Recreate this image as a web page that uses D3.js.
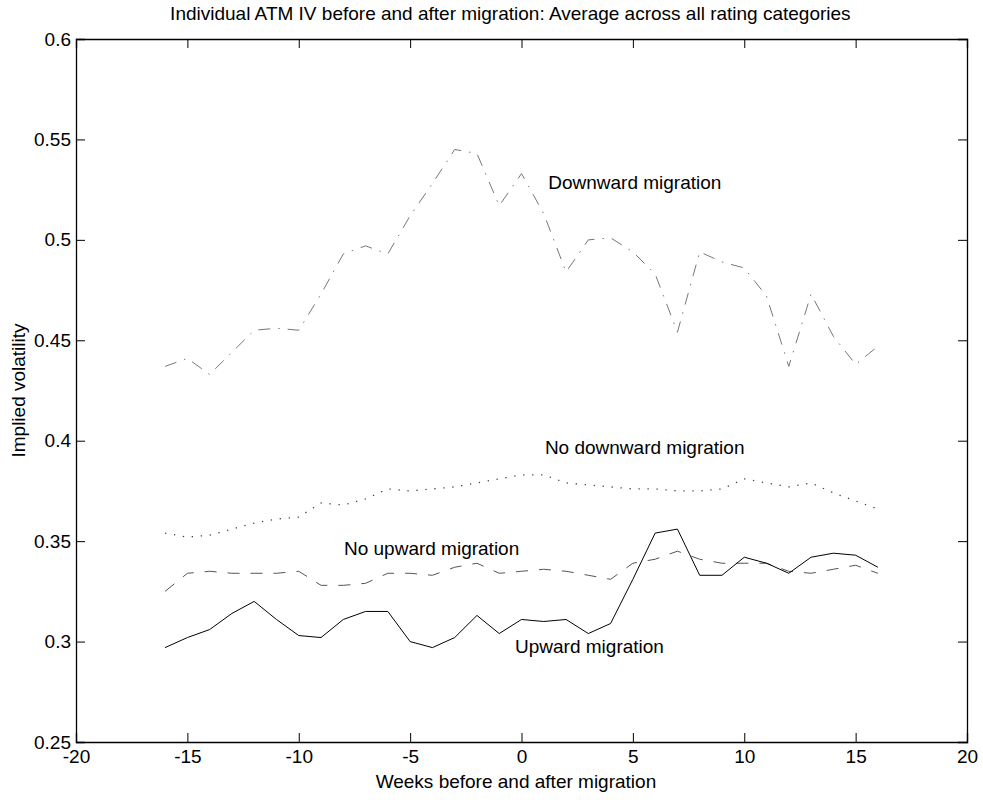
<!DOCTYPE html>
<html>
<head>
<meta charset="utf-8">
<script src="https://cdn.jsdelivr.net/npm/d3@7"></script>
<style>
  body { margin: 0; background: #fff; }
  text { font-family: "Liberation Sans", Arial, sans-serif; fill: #000; }
</style>
</head>
<body>
<script>
// weeks relative to the migration date
const weeks = d3.range(-16, 17)

// average ATM implied volatility, one value per week
const downward = [0.437, 0.441, 0.433, 0.444, 0.455, 0.456, 0.455, 0.473, 0.493, 0.497, 0.493,
  0.512, 0.528, 0.545, 0.543, 0.517, 0.533, 0.513, 0.484, 0.500, 0.501, 0.494, 0.483,
  0.454, 0.494, 0.489, 0.486, 0.472, 0.437, 0.473, 0.452, 0.438, 0.447]
const noDownward = [0.354, 0.352, 0.353, 0.356, 0.359, 0.361, 0.362, 0.369, 0.368, 0.371, 0.376,
  0.375, 0.376, 0.377, 0.379, 0.381, 0.383, 0.383, 0.379, 0.378, 0.377, 0.376, 0.376,
  0.375, 0.375, 0.376, 0.381, 0.379, 0.377, 0.379, 0.374, 0.370, 0.366]
const noUpward = [0.325, 0.334, 0.335, 0.334, 0.334, 0.334, 0.335, 0.328, 0.328, 0.329, 0.334,
  0.334, 0.333, 0.337, 0.339, 0.334, 0.335, 0.336, 0.335, 0.333, 0.331, 0.339, 0.341,
  0.345, 0.341, 0.339, 0.339, 0.339, 0.335, 0.334, 0.336, 0.338, 0.334]
const upward = [0.297, 0.302, 0.306, 0.314, 0.320, 0.311, 0.303, 0.302, 0.311, 0.315, 0.315,
  0.300, 0.297, 0.302, 0.313, 0.304, 0.311, 0.310, 0.311, 0.304, 0.309, 0.331, 0.354,
  0.356, 0.333, 0.333, 0.342, 0.339, 0.334, 0.342, 0.344, 0.343, 0.337]

const seriesNames = ["Downward migration", "No downward migration", "No upward migration", "Upward migration"]
const seriesValues = [downward, noDownward, noUpward, upward]
// where each series label sits, in data units [week, IV]
const labelAt = [[1.2, 0.5253], [1.05, 0.3934], [-7.97, 0.3431], [-0.29, 0.2942]]

const xTicks = d3.range(-20, 21, 5)
const yTicks = [0.25, 0.3, 0.35, 0.4, 0.45, 0.5, 0.55, 0.6]

const titleText = "Individual ATM IV before and after migration: Average across all rating categories"
const xLabel = "Weeks before and after migration"
const yLabel = "Implied volatility"

// line looks, in the same order as seriesNames
const looks = [
  { stroke: "#777", dash: "12,8,1.5,8", w: 1 },
  { stroke: "#444", dash: "1.3,7.7", w: 1.3 },
  { stroke: "#555", dash: "12,11", w: 1 },
  { stroke: "#000", dash: null, w: 1 }
]

const W = 983, H = 802
const plotL = 76, plotR = 967, plotT = 39, plotB = 742
const fs = 19

const svg = d3.select("body").append("svg")
  .attr("width", W)
  .attr("height", H)

const x = d3.scaleLinear().domain([-20, 20]).range([plotL, plotR])
const y = d3.scaleLinear().domain([0.25, 0.6]).range([plotB, plotT])

const line = d3.line()
  .x((d, i) => x(weeks[i]))
  .y(d => y(d))

seriesValues.forEach((vals, k) => {
  svg.append("path")
    .datum(vals)
    .attr("d", line)
    .attr("fill", "none")
    .attr("stroke", looks[k].stroke)
    .attr("stroke-width", looks[k].w)
    .attr("stroke-dasharray", looks[k].dash)
})

seriesNames.forEach((name, k) => {
  svg.append("text")
    .attr("x", x(labelAt[k][0]))
    .attr("y", y(labelAt[k][1]))
    .attr("font-size", fs)
    .text(name)
})

// box with inward ticks on all sides, matlab style
const tickLen = 9
const axes = svg.append("g")
axes.append("g").attr("transform", `translate(0,${plotB})`)
  .call(d3.axisBottom(x).tickValues(xTicks).tickSize(-tickLen).tickPadding(8).tickFormat(d => String(d)))
axes.append("g").attr("transform", `translate(0,${plotT})`)
  .call(d3.axisTop(x).tickValues(xTicks).tickSize(-tickLen).tickFormat(""))
axes.append("g").attr("transform", `translate(${plotL},0)`)
  .call(d3.axisLeft(y).tickValues(yTicks).tickSize(-tickLen).tickPadding(5).tickFormat(d => String(+d.toFixed(2))))
axes.append("g").attr("transform", `translate(${plotR},0)`)
  .call(d3.axisRight(y).tickValues(yTicks).tickSize(-tickLen).tickFormat(""))

axes.selectAll(".domain").attr("stroke", "#000").attr("stroke-width", 1.3)
axes.selectAll(".tick line").attr("stroke", "#000")
axes.selectAll(".tick text")
  .attr("font-size", fs)
  .attr("font-family", "Liberation Sans, Arial, sans-serif")
  .attr("fill", "#000")

svg.append("text")
  .attr("x", x(-0.5))
  .attr("y", 20)
  .attr("text-anchor", "middle")
  .attr("font-size", fs)
  .text(titleText)

svg.append("text")
  .attr("x", x(-0.25))
  .attr("y", 788)
  .attr("text-anchor", "middle")
  .attr("font-size", fs)
  .text(xLabel)

svg.append("text")
  .attr("transform", `translate(25,${(plotT + plotB) / 2}) rotate(-90)`)
  .attr("text-anchor", "middle")
  .attr("font-size", fs)
  .text(yLabel)
</script>
</body>
</html>
